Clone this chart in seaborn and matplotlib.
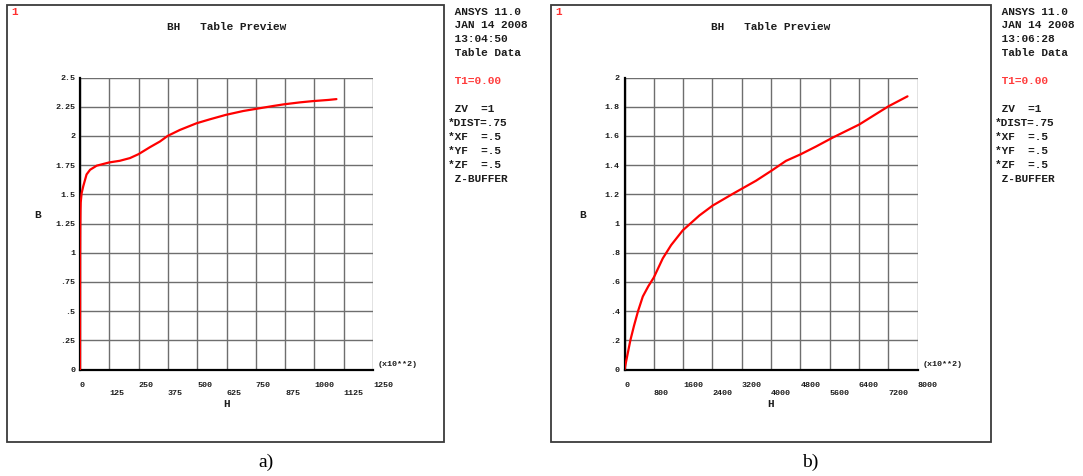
import numpy as np
import pandas as pd
import matplotlib
matplotlib.use("Agg")
import matplotlib.pyplot as plt
import seaborn as sns
from matplotlib.patches import Rectangle

# ---------------- data ----------------
# panel a : H in units of 10**2
h_a = [0, 0.5, 1, 2, 3, 7, 14, 28, 43, 71, 125, 170, 213, 250, 298, 341, 374,
       426, 497, 554, 622, 696, 746, 824, 869, 938, 994, 1060, 1094]
b_a = [0.0, 1.0, 1.2, 1.36, 1.43, 1.51, 1.57, 1.67, 1.71, 1.745, 1.773, 1.787,
       1.81, 1.844, 1.903, 1.952, 2.0, 2.051, 2.108, 2.142, 2.18, 2.213, 2.23,
       2.256, 2.27, 2.287, 2.298, 2.308, 2.315]
# panel b
h_b = [0, 80, 160, 260, 370, 500, 650, 800, 1045, 1273, 1591, 2045, 2409, 2955,
       3591, 4009, 4409, 4809, 5227, 5682, 6409, 6773, 7209, 7727]
b_b = [0.0, 0.1, 0.2, 0.3, 0.4, 0.5, 0.57, 0.63, 0.761, 0.852, 0.953, 1.055,
       1.123, 1.203, 1.293, 1.361, 1.429, 1.474, 1.527, 1.588, 1.678, 1.735,
       1.803, 1.871]

xticks_a = [0, 125, 250, 375, 500, 625, 750, 875, 1000, 1125, 1250]
yticks_a = [0, 0.25, 0.5, 0.75, 1, 1.25, 1.5, 1.75, 2, 2.25, 2.5]
ylabels_a = ["0", ".25", ".5", ".75", "1", "1.25", "1.5", "1.75", "2", "2.25", "2.5"]
xticks_b = [0, 800, 1600, 2400, 3200, 4000, 4800, 5600, 6400, 7200, 8000]
yticks_b = [0, 0.2, 0.4, 0.6, 0.8, 1, 1.2, 1.4, 1.6, 1.8, 2]
ylabels_b = ["0", ".2", ".4", ".6", ".8", "1", "1.2", "1.4", "1.6", "1.8", "2"]

side_a = [" ANSYS 11.0", " JAN 14 2008", " 13:04:50", " Table Data", " T1=0.00",
          " ZV  =1", "*DIST=.75", "*XF  =.5", "*YF  =.5", "*ZF  =.5", " Z-BUFFER"]
side_b = [" ANSYS 11.0", " JAN 14 2008", " 13:06:28", " Table Data", " T1=0.00",
          " ZV  =1", "*DIST=.75", "*XF  =.5", "*YF  =.5", "*ZF  =.5", " Z-BUFFER"]
side_y = [11.7, 25, 39.3, 53.3, 80.7, 109, 123, 137, 151, 165, 179]

# ---------------- style ----------------
sns.set_theme(style="white")
plt.rcParams["font.family"] = ["Liberation Mono", "DejaVu Sans Mono"]
TXT = "#1c1c1c"
MONO = ["Liberation Mono", "DejaVu Sans Mono"]

W, H = 1083, 476
fig = plt.figure(figsize=(W / 100, H / 100), dpi=100)
fig.patch.set_facecolor("white")


def fx(px):
    return px / W


def fy(py):
    return 1 - py / H


def make_panel(left_px, h, b, xticks, yticks, ylabels, frame, side, side_x, tag, tag_x):
    top_px, bot_px = 77.5, 369.5
    width_px = 293
    ax = fig.add_axes([fx(left_px), fy(bot_px), width_px / W, (bot_px - top_px) / H])
    ax.set_facecolor("white")
    df = pd.DataFrame({"H": h, "B": b})
    sns.lineplot(data=df, x="H", y="B", ax=ax, color="#ff0000", linewidth=1.6,
                 sort=False, estimator=None, zorder=5)
    ax.set_xlim(xticks[0], xticks[-1])
    ax.set_ylim(yticks[0], yticks[-1])
    ax.set_xticks(xticks)
    ax.set_yticks(yticks)
    ax.set_xticklabels([str(t) if i % 2 == 0 else "\n" + str(t) for i, t in enumerate(xticks)],
                       ha="left", va="top", fontsize=6, fontweight="bold", color=TXT,
                       linespacing=1.25, family=MONO)
    ax.set_yticklabels(ylabels, fontsize=6, fontweight="bold", color=TXT, family=MONO)
    ax.tick_params(axis="x", length=3, width=1, color="#808080", pad=6, direction="out")
    ax.tick_params(axis="y", length=3, width=1, color="#808080", pad=0.5, direction="out")
    ax.grid(True, color="#6e6e6e", linewidth=1.0)
    ax.set_axisbelow(True)
    for s in ["top", "right"]:
        ax.spines[s].set_visible(False)
    for s in ["left", "bottom"]:
        ax.spines[s].set_visible(True)
        ax.spines[s].set_color("black")
        ax.spines[s].set_linewidth(1.6)
        ax.spines[s].set_zorder(4)
    ax.set_xlabel("")
    ax.set_ylabel("")
    ax.text(0.5, (bot_px - 404) / (bot_px - top_px), "H", transform=ax.transAxes,
            ha="center", va="center", fontsize=8, fontweight="bold", color=TXT, family=MONO)
    ax.text((38 + left_px - 80 - left_px) / width_px, (bot_px - 215) / (bot_px - top_px), "B",
            transform=ax.transAxes, ha="center", va="center", fontsize=8,
            fontweight="bold", color=TXT, family=MONO)
    ax.text(1 + 5 / width_px, 4.5 / (bot_px - top_px), "(x10**2)", transform=ax.transAxes,
            ha="left", va="center", fontsize=6, fontweight="bold", color=TXT, family=MONO)
    ax.text(0.5, (bot_px - 26.5) / (bot_px - top_px), "BH   Table Preview",
            transform=ax.transAxes, ha="center", va="center", fontsize=8,
            fontweight="bold", color=TXT, family=MONO)
    # frame
    x0, x1, y0, y1 = frame
    fig.patches.append(Rectangle((fx(x0), fy(y1)), (x1 - x0) / W, (y1 - y0) / H,
                                 transform=fig.transFigure, fill=False,
                                 edgecolor="#3a3a3a", linewidth=1.3))
    fig.text(fx(x0 + 4), fy(12), "1", ha="left", va="center", fontsize=8,
             fontweight="bold", color="#ff3030", family=MONO)
    for line, yy in zip(side, side_y):
        col = "#ff3b3b" if line.strip().startswith("T1") else TXT
        fig.text(fx(side_x), fy(yy), line, ha="left", va="center", fontsize=8,
                 fontweight="bold", color=col, family=MONO)
    fig.text(fx(tag_x), fy(462), tag, ha="center", va="center", fontsize=14,
             color="black", family=["Liberation Serif", "DejaVu Serif"])
    return ax


make_panel(80, h_a, b_a, xticks_a, yticks_a, ylabels_a, (7, 444, 5, 442),
           side_a, 448, "a)", 266)
make_panel(624.5, h_b, b_b, xticks_b, yticks_b, ylabels_b, (551, 991, 5, 442),
           side_b, 995, "b)", 810)

fig.savefig("out.png", dpi=100, facecolor="white")
